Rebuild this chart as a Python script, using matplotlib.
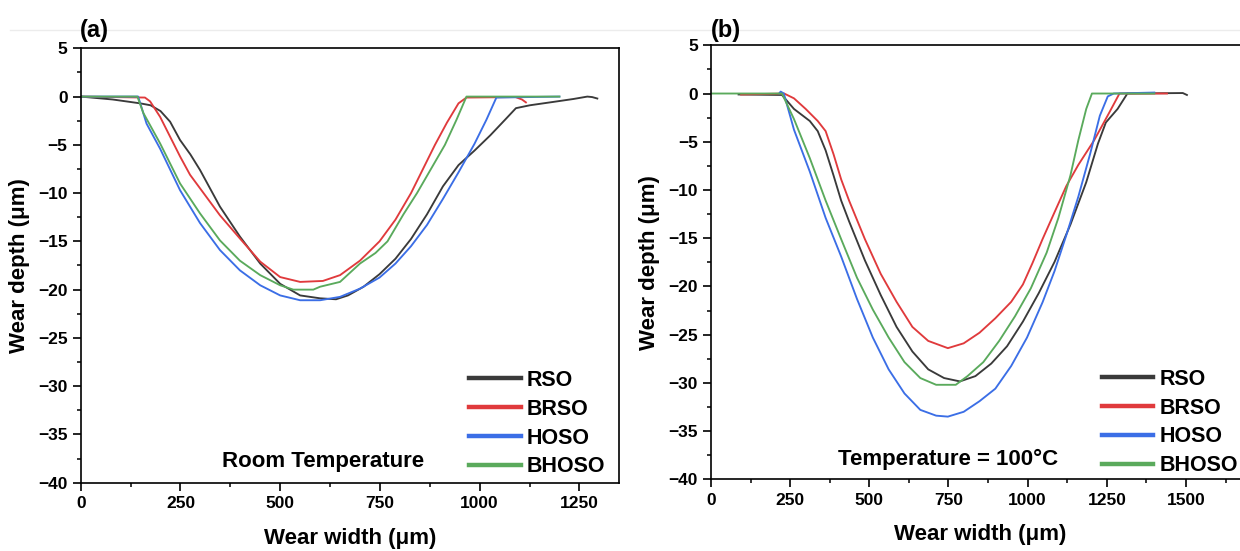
import matplotlib
matplotlib.use("Agg")
import matplotlib.pyplot as plt
from matplotlib.ticker import MultipleLocator
from matplotlib.lines import Line2D

plt.rcParams['font.family'] = ['Liberation Sans', 'DejaVu Sans']
plt.rcParams['font.weight'] = 'bold'
plt.rcParams['axes.labelweight'] = 'bold'

# ---------------- data: panel (a) room temperature ----------------
a_rso_x = [0, 80, 149, 175, 200, 224, 249, 275, 299, 349, 399, 450, 500, 550, 600, 640, 670, 709, 749, 789, 828,
           868, 908, 947, 987, 1027, 1066, 1091, 1126, 1185, 1235, 1270, 1282, 1295]
a_rso_y = [0, -0.3, -0.7, -0.9, -1.5, -2.6, -4.5, -6.0, -7.6, -11.4, -14.5, -17.3, -19.4, -20.6, -20.9, -21.0, -20.6,
           -19.7, -18.4, -16.8, -14.75, -12.2, -9.3, -7.1, -5.6, -4.0, -2.3, -1.2, -0.9, -0.55, -0.25, 0, -0.05, -0.2]

a_brso_x = [0, 80, 161, 174, 199, 224, 249, 274, 299, 349, 399, 450, 500, 550, 607, 650, 700, 749, 789, 828,
            858, 888, 918, 947, 967, 1090, 1106, 1116]
a_brso_y = [0, -0.05, -0.1, -0.5, -2.1, -4.15, -6.2, -8.1, -9.5, -12.3, -14.7, -17.1, -18.7, -19.2, -19.1, -18.5,
            -17.0, -15.0, -12.75, -10.0, -7.5, -5.0, -2.7, -0.7, -0.1, -0.05, -0.3, -0.6]

a_hoso_x = [0, 144, 165, 199, 249, 299, 349, 399, 450, 500, 550, 600, 650, 700, 749, 789, 828, 868, 908, 947,
            987, 1017, 1042, 1200]
a_hoso_y = [0, 0, -2.8, -5.4, -9.7, -13.1, -15.9, -18.0, -19.55, -20.6, -21.1, -21.1, -20.75, -19.9, -18.75,
            -17.3, -15.5, -13.3, -10.6, -7.85, -4.9, -2.4, -0.1, 0]

a_bhoso_x = [0, 142, 157, 199, 249, 299, 349, 399, 450, 500, 533, 583, 600, 650, 700, 739, 769, 809, 843, 878,
             913, 942, 967, 1200]
a_bhoso_y = [0, 0, -1.7, -4.85, -9.0, -12.1, -14.9, -17.0, -18.5, -19.55, -20.0, -20.0, -19.7, -19.2, -17.3,
             -16.2, -15.0, -12.2, -10.0, -7.5, -5.0, -2.4, 0, 0]

# ---------------- data: panel (b) 100 °C ----------------
b_rso_x = [87, 224, 262, 312, 337, 362, 387, 411, 436, 486, 536, 586, 636, 686, 736, 786, 835, 885, 935, 985,
           1035, 1085, 1135, 1185, 1222, 1247, 1284, 1315, 1490, 1503]
b_rso_y = [-0.1, -0.15, -1.6, -2.85, -3.9, -5.9, -8.5, -11.1, -13.25, -17.3, -20.9, -24.2, -26.75, -28.6, -29.5,
           -29.85, -29.3, -28.0, -26.2, -23.65, -20.7, -17.45, -13.6, -9.2, -5.2, -3.0, -1.6, 0, 0.05, -0.15]

b_brso_x = [95, 231, 262, 299, 337, 362, 387, 411, 436, 486, 536, 586, 636, 686, 748, 798, 848, 898, 948, 985,
            1015, 1047, 1085, 1122, 1160, 1210, 1259, 1290, 1440]
b_brso_y = [-0.1, 0, -0.5, -1.6, -2.85, -3.9, -6.3, -8.9, -11.1, -15.1, -18.7, -21.6, -24.2, -25.65, -26.4,
            -25.9, -24.8, -23.3, -21.6, -19.8, -17.6, -15.1, -12.3, -9.6, -7.4, -4.85, -1.9, 0, 0]

b_hoso_x = [215, 220, 230, 262, 312, 362, 411, 461, 511, 561, 611, 661, 711, 748, 798, 848, 898, 948, 998, 1047,
            1085, 1122, 1160, 1197, 1228, 1253, 1272, 1400]
b_hoso_y = [0, 0.2, 0, -3.75, -8.1, -12.9, -16.9, -21.3, -25.3, -28.6, -31.1, -32.8, -33.4, -33.5, -33.0, -31.9,
            -30.6, -28.25, -25.3, -21.65, -18.4, -14.7, -10.7, -6.3, -2.3, -0.3, 0, 0.1]

b_bhoso_x = [0, 224, 262, 312, 362, 411, 461, 511, 561, 611, 661, 711, 773, 810, 860, 910, 960, 1010, 1060,
             1097, 1135, 1160, 1185, 1203, 1400]
b_bhoso_y = [0, 0, -2.65, -6.7, -11.1, -15.1, -19.1, -22.4, -25.3, -27.85, -29.5, -30.2, -30.2, -29.3, -27.85,
             -25.65, -23.1, -20.2, -16.5, -12.9, -8.5, -4.85, -1.6, 0, 0]

labels = ['RSO', 'BRSO', 'HOSO', 'BHOSO']
colors = ['#3a3a3a', '#e03a3c', '#3b6ee6', '#5aaa5c']
yticks = [5, 0, -5, -10, -15, -20, -25, -30, -35, -40]

fig = plt.figure(figsize=(12.4, 5.51), dpi=100)
ax1 = fig.add_axes([0.0651, 0.1240, 0.4343, 0.7883])
ax2 = fig.add_axes([0.5734, 0.1301, 0.4341, 0.7877])

# faint separator line near top
fig.add_artist(Line2D([0.008, 1.0], [1 - 30 / 551, 1 - 30 / 551], transform=fig.transFigure,
                      color='#ececec', lw=1.0))

panels = [
    (ax1, [(a_rso_x, a_rso_y), (a_brso_x, a_brso_y), (a_hoso_x, a_hoso_y), (a_bhoso_x, a_bhoso_y)],
     (0, 1350), [0, 250, 500, 750, 1000, 1250], 'Room Temperature', (607, -37.8), 469 / 1240, 1 - 370 / 551,
     '(a)', 94.5),
    (ax2, [(b_rso_x, b_rso_y), (b_brso_x, b_brso_y), (b_hoso_x, b_hoso_y), (b_bhoso_x, b_bhoso_y)],
     (0, 1700), [0, 250, 500, 750, 1000, 1250, 1500], 'Temperature = 100\u00b0C', (748, -37.9),
     1101.6 / 1240, 1 - 369 / 551, '(b)', 725.5),
]

for ax, series, xlim, xt, note, notepos, legx, legy, plabel, plx in panels:
    for (xs, ys), c, lab in zip(series, colors, labels):
        ax.plot(xs, ys, color=c, lw=1.35, label=lab)
    ax.set_xlim(*xlim)
    ax.set_ylim(-40, 5)
    ax.set_xticks(xt)
    ax.set_yticks(yticks)
    ax.xaxis.set_minor_locator(MultipleLocator(125))
    ax.yaxis.set_minor_locator(MultipleLocator(2.5))
    ax.tick_params(which='major', direction='out', length=5.5, width=1.2, labelsize=12.5, pad=4)
    ax.tick_params(which='minor', direction='out', length=3, width=1.1)
    for lab in ax.get_xticklabels() + ax.get_yticklabels():
        lab.set_fontweight('bold')
    for sp in ax.spines.values():
        sp.set_linewidth(1.2)
    ax.set_xlabel('Wear width (\u03bcm)', fontsize=16, fontweight='bold', labelpad=12)
    ax.set_ylabel('Wear depth (\u03bcm)', fontsize=16, fontweight='bold', labelpad=6)
    ax.text(notepos[0], notepos[1], note, fontsize=16, fontweight='bold', ha='center', va='center')
    leg = ax.legend(loc='upper left', bbox_to_anchor=(legx, legy), bbox_transform=fig.transFigure,
                    frameon=False, fontsize=15.5, handlelength=2.4, handletextpad=0.3, labelspacing=0.36,
                    borderpad=0, borderaxespad=0)
    for h in leg.get_lines():
        h.set_linewidth(3.2)
    for t in leg.get_texts():
        t.set_fontweight('bold')
    fig.text(plx / 1240, 1 - 31 / 551, plabel, fontsize=17, fontweight='bold', ha='center', va='center')

# keep the left legend above the right panel's background
ax1.set_zorder(2)
ax1.patch.set_visible(False)

fig.savefig('out.png', dpi=100)
